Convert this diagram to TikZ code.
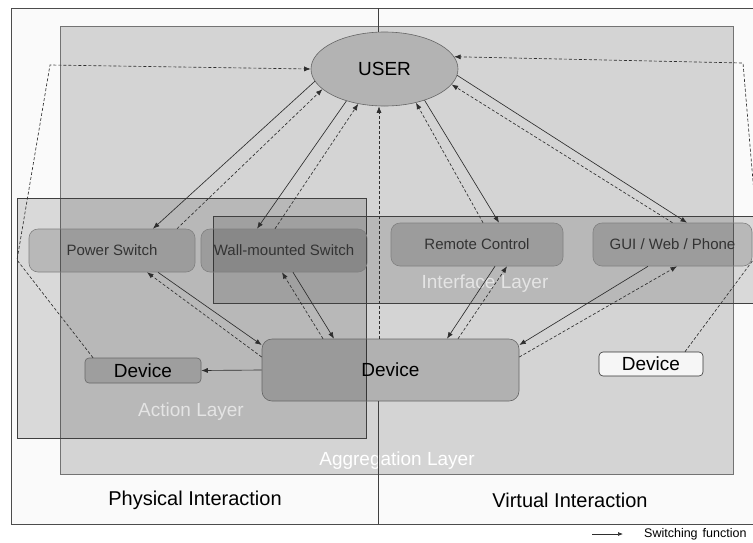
\documentclass[tikz,border=0pt]{standalone}
\usepackage{fontspec}
\setmainfont{Liberation Sans}
\usetikzlibrary{arrows.meta,calc,shapes.geometric}
\definecolor{bgc}{HTML}{FAFAFA}
\definecolor{aggc}{HTML}{D4D4D4}
\definecolor{linec}{HTML}{2E2E2E}
\definecolor{userc}{HTML}{B3B3B3}
\definecolor{txtc}{HTML}{333333}
\definecolor{lblc}{HTML}{E4E4E4}
\begin{document}
\begin{tikzpicture}[x=1pt,y=-1pt,
  conn/.style={draw=linec, line width=0.65pt, -{Latex[length=6.5pt,width=5pt]}},
  dconn/.style={conn, dash pattern=on 3pt off 2pt},
  layer/.style={draw=black!75, line width=0.7pt, fill=black, fill opacity=0.13},
  lbl/.style={text=lblc, font=\fontsize{19}{22}\selectfont, inner sep=0pt},
  ctrl/.style={draw=black!50, line width=0.6pt, fill=black, fill opacity=0.15, text opacity=1,
    rounded corners=9pt, text=txtc, font=\fontsize{15}{18}\selectfont,
    minimum width=166pt, minimum height=43pt, inner sep=0pt},
  devbox/.style={draw=black!60, line width=0.6pt, fill=black, fill opacity=0.14, text opacity=1,
    rounded corners=4pt, text=black, font=\fontsize{19}{22}\selectfont, inner sep=0pt},
  big/.style={font=\fontsize{20}{24}\selectfont, text=black, inner sep=0pt}
]
\useasboundingbox (0,0) rectangle (753,542);
\fill[white] (0,0) rectangle (753,542);
% outer frame
\draw[draw=black!70, line width=0.7pt, fill=bgc] (11,8) rectangle (775,524);
% aggregation layer
\draw[draw=black!55, line width=0.8pt, fill=aggc] (60,26) rectangle (733,474);
% action layer
\path[layer] (17,198) rectangle (366,438);
% interface layer
\path[layer] (213,216) rectangle (775,303);

% layer labels
\node[lbl] (lint) at (485,284) {Interface Layer};
\node[lbl] (lact) at (191,412) {Action Layer};
\node[lbl, text=white] (lagg) at (397,461) {Aggregation Layer};
\node[big] (phys) at (195,500) {Physical Interaction};
\node[big] (virt) at (570,500) {Virtual Interaction};

% nodes
\node[ellipse, draw=black!60, line width=0.6pt, fill=userc, minimum width=147pt, minimum height=74pt,
  inner sep=0pt, font=\fontsize{19}{22}\selectfont] (user) at (384.5,69) {USER};
\node[ctrl] (ps) at (112,250.5) {Power Switch};
\node[ctrl] (ws) at (284,250.5) {Wall-mounted Switch};
\node[ctrl, minimum width=172pt] (rc) at (477,244.5) {Remote Control};
\node[ctrl, minimum width=159pt] (gui) at (672.5,244.5) {GUI / Web / Phone};
\node[devbox, rounded corners=10pt, fill opacity=0.16, minimum width=257pt, minimum height=62pt] (dev) at (390.5,370) {Device};
\node[devbox, minimum width=116pt, minimum height=25pt] (dl) at (143,370.5) {Device};
\node[devbox, draw=black!80, fill=white, fill opacity=0.8, minimum width=104pt, minimum height=24pt] (dr) at (651,364) {Device};

% divider
\coordinate (dtop) at (378,8);
\coordinate (dbot) at (378,524);
\draw[black!75, line width=0.7pt] (dtop) -- (dtop |- user.north);
\draw[black!75, line width=0.7pt] (dbot) -- (dbot |- dev.south);

% helper coordinates
\coordinate (cx) at (379,0);
\coordinate (l1) at (17,260);
\coordinate (l2) at (50,65);
\coordinate (r1) at (759,252);
\coordinate (r2) at (743,63);

% USER <-> Power Switch
\draw[conn] (user.190) -- ([xshift=41pt]ps.north);
\draw[dconn] ([xshift=65pt]ps.north) -- (user.198);
% USER <-> Wall-mounted Switch
\draw[conn] (user.220.5) -- ([xshift=-27pt]ws.north);
\draw[dconn] ([xshift=-9pt]ws.north) -- (user.233);
% USER <-> Remote Control
\draw[conn] (user.322.6) -- ([xshift=22pt]rc.north);
\draw[dconn] ([xshift=6pt]rc.north) -- (user.313.7);
% USER <-> GUI
\draw[conn] (user.355) -- ([xshift=14.5pt]gui.north);
\draw[dconn] (gui.north) -- (user.347);
% Device -> USER
\draw[dconn] (dev.north -| cx) -- (user.south -| cx);
% Power Switch <-> Device
\draw[conn] ([xshift=46pt]ps.south) -- ([yshift=25pt]dev.west);
\draw[dconn] ([yshift=13pt]dev.west) -- ([xshift=35pt]ps.south);
% Wall-mounted Switch <-> Device
\draw[conn] ([xshift=9pt]ws.south) -- ([xshift=-56.5pt]dev.north);
\draw[dconn] ([xshift=-67.5pt]dev.north) -- ([xshift=-2pt]ws.south);
% Remote Control <-> Device
\draw[conn] ([xshift=18pt]rc.south) -- ([xshift=56.5pt]dev.north);
\draw[dconn] ([xshift=67.5pt]dev.north) -- ([xshift=30pt]rc.south);
% GUI <-> Device
\draw[conn] ([xshift=-24.5pt]gui.south) -- ([yshift=25pt]dev.east);
\draw[dconn] ([yshift=13pt]dev.east) -- ([xshift=4.5pt]gui.south);
% Device -> small Device
\draw[conn] (dev.west) -- (dl.east);
% feedback polylines
\draw[dconn] ([xshift=-50pt]dl.north) -- (l1) -- (l2) -- (user.180);
\draw[dconn] ([xshift=34pt]dr.north) -- (r1) -- (r2) -- (user.10);

% legend
\coordinate (lga) at (592,534);
\coordinate (lgb) at (623,534);
\draw[conn, -{Latex[length=5pt,width=4pt]}] (lga) -- (lgb);
\node[font=\fontsize{12.5}{15}\selectfont, inner sep=0pt, anchor=west] (lgt) at (644,534) {Switching\hspace{5pt}function};
\end{tikzpicture}
\end{document}
